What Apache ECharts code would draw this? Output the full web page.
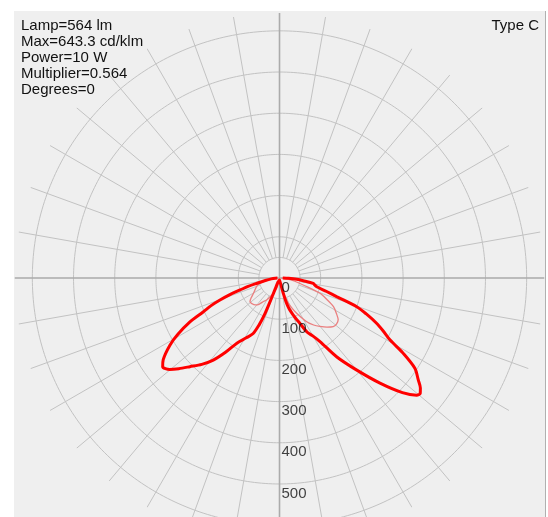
<!DOCTYPE html>
<html>
<head>
<meta charset="utf-8">
<script src="https://cdn.jsdelivr.net/npm/echarts@6/dist/echarts.min.js"></script>
<style>
  html, body { margin: 0; padding: 0; background: #ffffff; }
  #chart { width: 548px; height: 517px; }
</style>
</head>
<body>
<div id="chart"></div>
<script>
// Photometric intensity diagram (Type C), values in cd, gamma measured from nadir.
const infoLines = ['Lamp=564 lm', 'Max=643.3 cd/klm', 'Power=10 W', 'Multiplier=0.564', 'Degrees=0'];
const typeLabel = 'Type C';

// Radius scale and rings
const radiusMax = 643.3;
const ringValues = [50, 100, 200, 300, 400, 500, 600];
const ringLabels = [0, 100, 200, 300, 400, 500];
const spokeStep = 10;

// C0 plane (right half of the thick curve): gamma [deg], intensity
const c0Gamma = [0, 6, 10, 13, 14, 15.3, 16.5, 18, 20, 21.5, 24, 27, 30, 32.5, 36, 40, 43.7, 47, 49.5, 50.6, 52, 53.7, 56.3, 58.7, 60.7, 63, 65, 67.5, 69.6, 71.9, 74, 76.8, 79, 81, 83.5, 85.7, 88, 90];
const c0Value = [5, 8, 12, 25, 39, 59, 71, 82, 94, 103, 119, 147, 163, 183, 237, 292, 353, 408, 438, 442, 434, 418, 395, 351, 308, 282, 260, 228, 200, 147, 119, 93, 87, 83, 58, 42, 22, 8];

// C180 plane (left half of the thick curve)
const c180Gamma = [0, 10, 20, 21.5, 22.3, 23.5, 25.4, 29, 33.2, 36, 38.9, 42, 45.3, 48, 50.2, 52.8, 54.9, 58.5, 61, 63.8, 66, 68.1, 69.7, 71.5, 73.1, 75, 76.9, 80, 84, 88, 90];
const c180Value = [5, 7, 10, 45, 99, 124, 149, 166, 189, 223, 256, 282, 306, 329, 347, 356, 345, 312, 282, 243, 203, 178, 154, 127, 100, 79, 56, 35, 20, 10, 5];

// C90 plane (right half of the thin curve)
const c90Gamma = [0, 10, 18, 22, 26, 31.9, 36, 39.8, 44, 47.8, 51, 54.5, 58, 61.9, 65.5, 69.3, 73.6, 78, 84, 90];
const c90Value = [3, 20, 56, 77, 95, 125, 141, 153, 166, 176, 178, 175, 163, 149, 127, 105, 60, 38, 18, 5];

// C270 plane (left half of the thin curve)
const c270Gamma = [0, 15, 24.6, 30, 34.4, 38, 42.2, 46, 51.2, 55, 59.7, 65, 70, 73, 78, 84, 90];
const c270Value = [3, 25, 46, 61, 69, 81, 88, 91, 92, 84, 73, 65, 59, 54, 35, 15, 5];

const FONT = 'Arial, "Liberation Sans", sans-serif';
const GRID = '#c2c2c2';
const AXIS = '#ababab';

// Join a left half and a right half into one polar path of [radius, angle].
function planeCurve(leftG, leftV, rightG, rightV) {
  const pts = [];
  for (let i = leftG.length - 1; i >= 0; i--) pts.push([leftV[i], 360 - leftG[i]]);
  for (let i = 0; i < rightG.length; i++) pts.push([rightV[i], rightG[i]]);
  return pts;
}

const gridSeries = [];
ringValues.forEach(function (r) {
  const pts = [];
  for (let a = 0; a <= 360; a += 1) pts.push([r, a]);
  gridSeries.push({
    type: 'line', coordinateSystem: 'polar', data: pts, symbol: 'none', silent: true,
    lineStyle: { color: GRID, width: 1 }, z: 1, animation: false
  });
});
for (let a = spokeStep; a < 360; a += spokeStep) {
  if (a % 90 === 0) continue;
  gridSeries.push({
    type: 'line', coordinateSystem: 'polar', data: [[ringValues[0], a], [radiusMax, a]],
    symbol: 'none', silent: true, lineStyle: { color: GRID, width: 1 }, z: 1, animation: false
  });
}
// Main axes through the centre
gridSeries.push({
  type: 'line', coordinateSystem: 'polar', data: [[radiusMax, 180], [0, 0], [radiusMax, 0]],
  symbol: 'none', silent: true, lineStyle: { color: AXIS, width: 1.6 }, z: 2, animation: false
});
gridSeries.push({
  type: 'line', coordinateSystem: 'polar', data: [[radiusMax, 90], [0, 90], [radiusMax, 270]],
  symbol: 'none', silent: true, lineStyle: { color: AXIS, width: 1.6 }, z: 2, animation: false
});

const chart = echarts.init(document.getElementById('chart'), null, { renderer: 'canvas' });
chart.setOption({
  animation: false,
  backgroundColor: '#ffffff',
  polar: { center: [279.5, 278], radius: 265 },
  angleAxis: { type: 'value', min: 0, max: 360, startAngle: 270, clockwise: false, show: false },
  radiusAxis: { type: 'value', min: 0, max: radiusMax, show: false },
  graphic: [
    { type: 'rect', z: -10, shape: { x: 14, y: 11, width: 532, height: 520 }, style: { fill: '#efefef' } },
    { type: 'rect', z: -9, shape: { x: 545, y: 11, width: 1, height: 520 }, style: { fill: '#b0b0b0' } },
    {
      type: 'text', left: 21, top: 18, z: 10,
      style: { text: infoLines.join('\n'), font: '15px ' + FONT, fill: '#111', lineHeight: 16 }
    },
    {
      type: 'text', right: 9, top: 18, z: 10,
      style: { text: typeLabel, font: '15px ' + FONT, fill: '#111', textAlign: 'right' }
    }
  ],
  series: gridSeries.concat([
    {
      type: 'line', coordinateSystem: 'polar', name: 'C90-C270',
      data: planeCurve(c270Gamma, c270Value, c90Gamma, c90Value),
      symbol: 'none', smooth: 0.3, z: 5, animation: false,
      lineStyle: { color: '#ea7f7f', width: 1.3 }
    },
    {
      type: 'line', coordinateSystem: 'polar', name: 'C0-C180',
      data: planeCurve(c180Gamma, c180Value, c0Gamma, c0Value),
      symbol: 'none', smooth: 0.3, z: 6, animation: false,
      lineStyle: { color: '#ff0000', width: 3 }
    },
    {
      type: 'scatter', coordinateSystem: 'polar', symbolSize: 0, z: 8, silent: true, animation: false,
      data: ringLabels.map(function (v) { return [v, 0]; }),
      label: {
        show: true, position: 'right', distance: 2, offset: [0, 9.5],
        formatter: function (p) { return String(p.value[0]); },
        color: '#111', fontSize: 15, fontFamily: FONT
      }
    }
  ])
});
</script>
</body>
</html>
